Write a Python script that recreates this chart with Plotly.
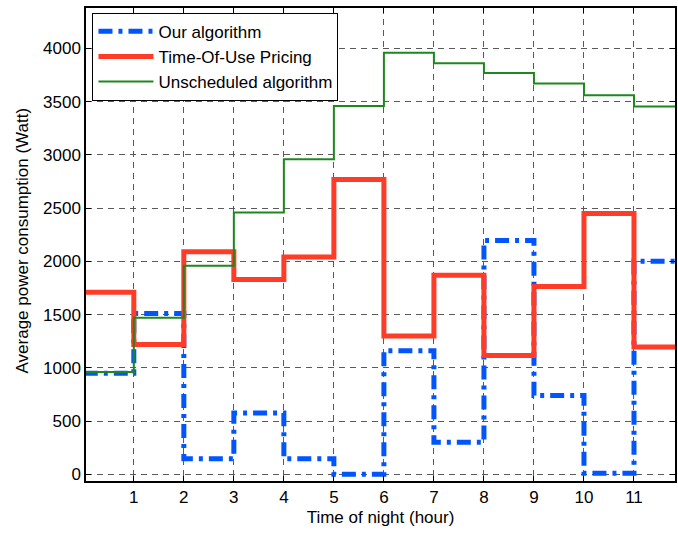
import plotly.graph_objects as go

hours = list(range(0, 13))
our_algorithm = [950, 1510, 145, 575, 145, 0, 1160, 300, 2195, 740, 10, 2000, 2000]
tou_pricing = [1710, 1220, 2090, 1830, 2040, 2770, 1300, 1870, 1115, 1765, 2450, 1195, 1195]
unscheduled = [960, 1470, 1960, 2460, 2960, 3460, 3960, 3860, 3770, 3670, 3560, 3455, 3455]
x_ticks = list(range(1, 12))
y_ticks = list(range(0, 4001, 500))

fig = go.Figure()
fig.add_trace(go.Scatter(x=hours, y=our_algorithm, mode="lines", line_shape="hv",
                         name="Our algorithm", legendgroup="a",
                         line=dict(color="rgb(0,85,255)", width=5, dash="14px,6px,4px,6px")))
fig.add_trace(go.Scatter(x=hours, y=tou_pricing, mode="lines", line_shape="hv",
                         name="Time-Of-Use Pricing", legendgroup="b",
                         line=dict(color="rgb(255,60,40)", width=5)))
fig.add_trace(go.Scatter(x=hours, y=unscheduled, mode="lines", line_shape="hv",
                         name="Unscheduled algorithm", legendgroup="c",
                         line=dict(color="rgb(30,135,30)", width=2)))

axis_common = dict(showline=True, linecolor="black", linewidth=1.5, mirror="all",
                   ticks="inside", ticklen=5, tickcolor="black",
                   showgrid=True, gridcolor="rgb(90,90,90)", griddash="6px,5px", gridwidth=1,
                   zeroline=False, tickfont=dict(size=17, color="black"))

fig.update_xaxes(range=[0.044, 11.82], tickvals=x_ticks,
                 title=dict(text="Time of night (hour)", font=dict(size=17, color="black"), standoff=5),
                 **axis_common)
fig.update_yaxes(range=[-63, 4380], tickvals=y_ticks, **axis_common)

fig.add_annotation(text="Average power consumption (Watt)", textangle=-90,
                   xref="paper", yref="paper", x=-0.1083, y=0.509,
                   xanchor="center", yanchor="middle", showarrow=False,
                   font=dict(size=17, color="black"))

fig.update_layout(width=678, height=533,
                  margin=dict(l=86, r=1, t=8, b=52),
                  paper_bgcolor="white", plot_bgcolor="white",
                  font=dict(family="Liberation Sans, Arial, sans-serif", size=17, color="black"),
                  legend=dict(x=0.011, y=0.99, xanchor="left", yanchor="top",
                              bgcolor="white", bordercolor="black", borderwidth=1,
                              font=dict(size=17), tracegroupgap=0, itemwidth=55),
                  showlegend=True)

fig.write_html("out.html")
